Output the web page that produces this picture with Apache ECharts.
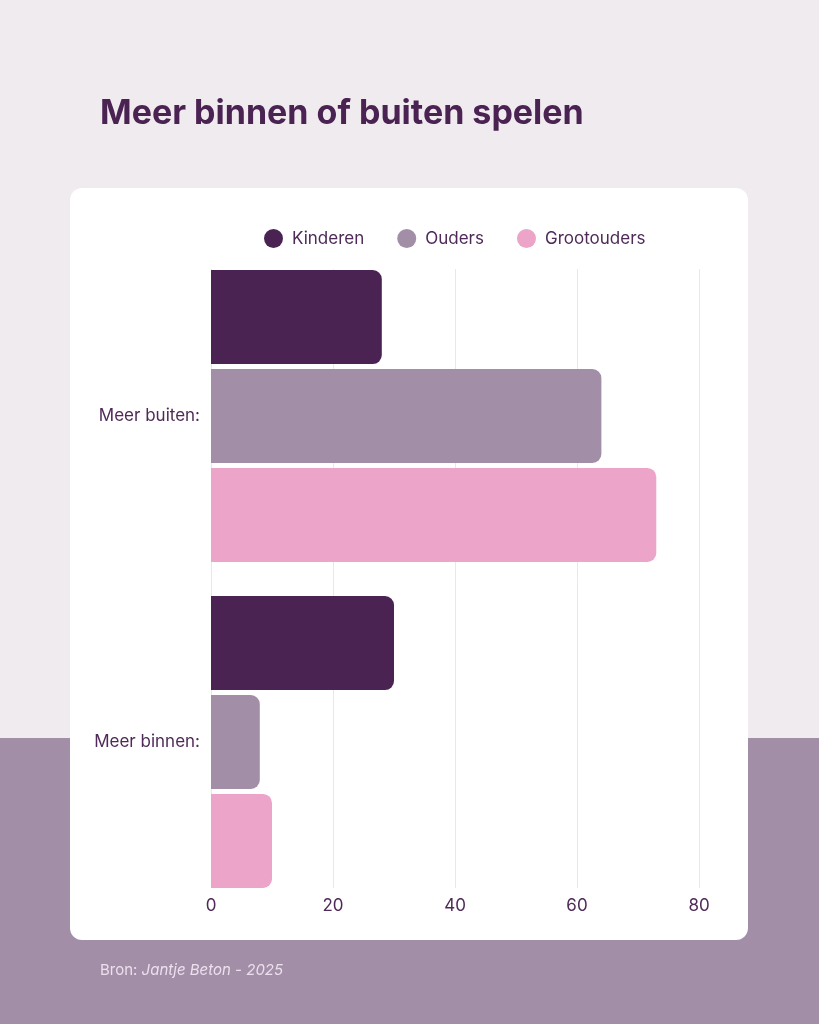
<!DOCTYPE html>
<html>
<head>
<meta charset="utf-8">
<script src="https://cdn.jsdelivr.net/npm/echarts@6/dist/echarts.min.js"></script>
<style>
html,body{margin:0;padding:0;}
#c{width:819px;height:1024px;}
</style>
</head>
<body>
<div id="c"></div>
<script>
const categories = ['Meer buiten:', 'Meer binnen:'];
const seriesNames = ['Kinderen', 'Ouders', 'Grootouders'];
const kinderen = [28, 30];
const ouders = [64, 8];
const grootouders = [73, 10];
const xTicks = [0, 20, 40, 60, 80];

const colors = ['#4a2353', '#a38ea8', '#eca4c8'];
const textColor = '#4f2a58';
const FONT = 'Inter';

const chart = echarts.init(document.getElementById('c'), null, {renderer: 'canvas'});
const values = [kinderen, ouders, grootouders];

const option = {
  animation: false,
  textStyle: {fontFamily: FONT},
  graphic: [
    {type: 'rect', z: -10, shape: {x: 0, y: 0, width: 819, height: 738}, style: {fill: '#f0ebef'}},
    {type: 'rect', z: -10, shape: {x: 0, y: 738, width: 819, height: 286}, style: {fill: '#a38ea8'}},
    {type: 'rect', z: -9, shape: {x: 70, y: 188, width: 678, height: 752, r: 12}, style: {fill: '#ffffff'}},
    {type: 'text', left: 100, top: 97, style: {text: 'Meer binnen of buiten spelen', fill: '#4a2353', font: '700 34px Inter'}},
    {type: 'text', left: 100, top: 963, style: {
      text: '{a|Bron: }{b|Jantje Beton - 2025}',
      rich: {
        a: {fill: '#ecdfee', fontSize: 15, fontFamily: FONT},
        b: {fill: '#ecdfee', fontSize: 15, fontFamily: FONT, fontStyle: 'italic'}
      }
    }}
  ],
  legend: {
    data: seriesNames,
    left: 259,
    top: 224,
    icon: 'circle',
    itemWidth: 19,
    itemHeight: 19,
    itemGap: 33,
    textStyle: {color: textColor, fontSize: 17, fontFamily: FONT, padding: [0, 0, 0, 4]}
  },
  grid: [
    {left: 211, right: 120, top: 253, height: 652},
    {left: 211, right: 120, top: 269, height: 619}
  ],
  xAxis: [
    {type: 'value', gridIndex: 0, min: 0, max: 80, interval: 20, show: false},
    {type: 'value', gridIndex: 1, min: 0, max: 80, interval: 20,
     axisLine: {show: false}, axisTick: {show: false},
     axisLabel: {color: textColor, fontSize: 17, fontFamily: FONT, margin: 9,
                 formatter: v => xTicks.includes(v) ? String(v) : ''},
     splitLine: {show: true, lineStyle: {color: '#e9e7e9', width: 1}}}
  ],
  yAxis: [
    {type: 'category', gridIndex: 0, data: categories, inverse: true,
     axisLine: {show: false}, axisTick: {show: false},
     axisLabel: {color: textColor, fontSize: 17, fontFamily: FONT, margin: 11}},
    {type: 'category', gridIndex: 1, data: categories, show: false}
  ],
  series: seriesNames.map((name, i) => ({
    name: name,
    type: 'bar',
    xAxisIndex: 0,
    yAxisIndex: 0,
    data: values[i],
    barWidth: 94,
    barGap: '5.3%',
    itemStyle: {color: colors[i], borderRadius: [0, 9, 9, 0]}
  }))
};
chart.setOption(option);
</script>
</body>
</html>
